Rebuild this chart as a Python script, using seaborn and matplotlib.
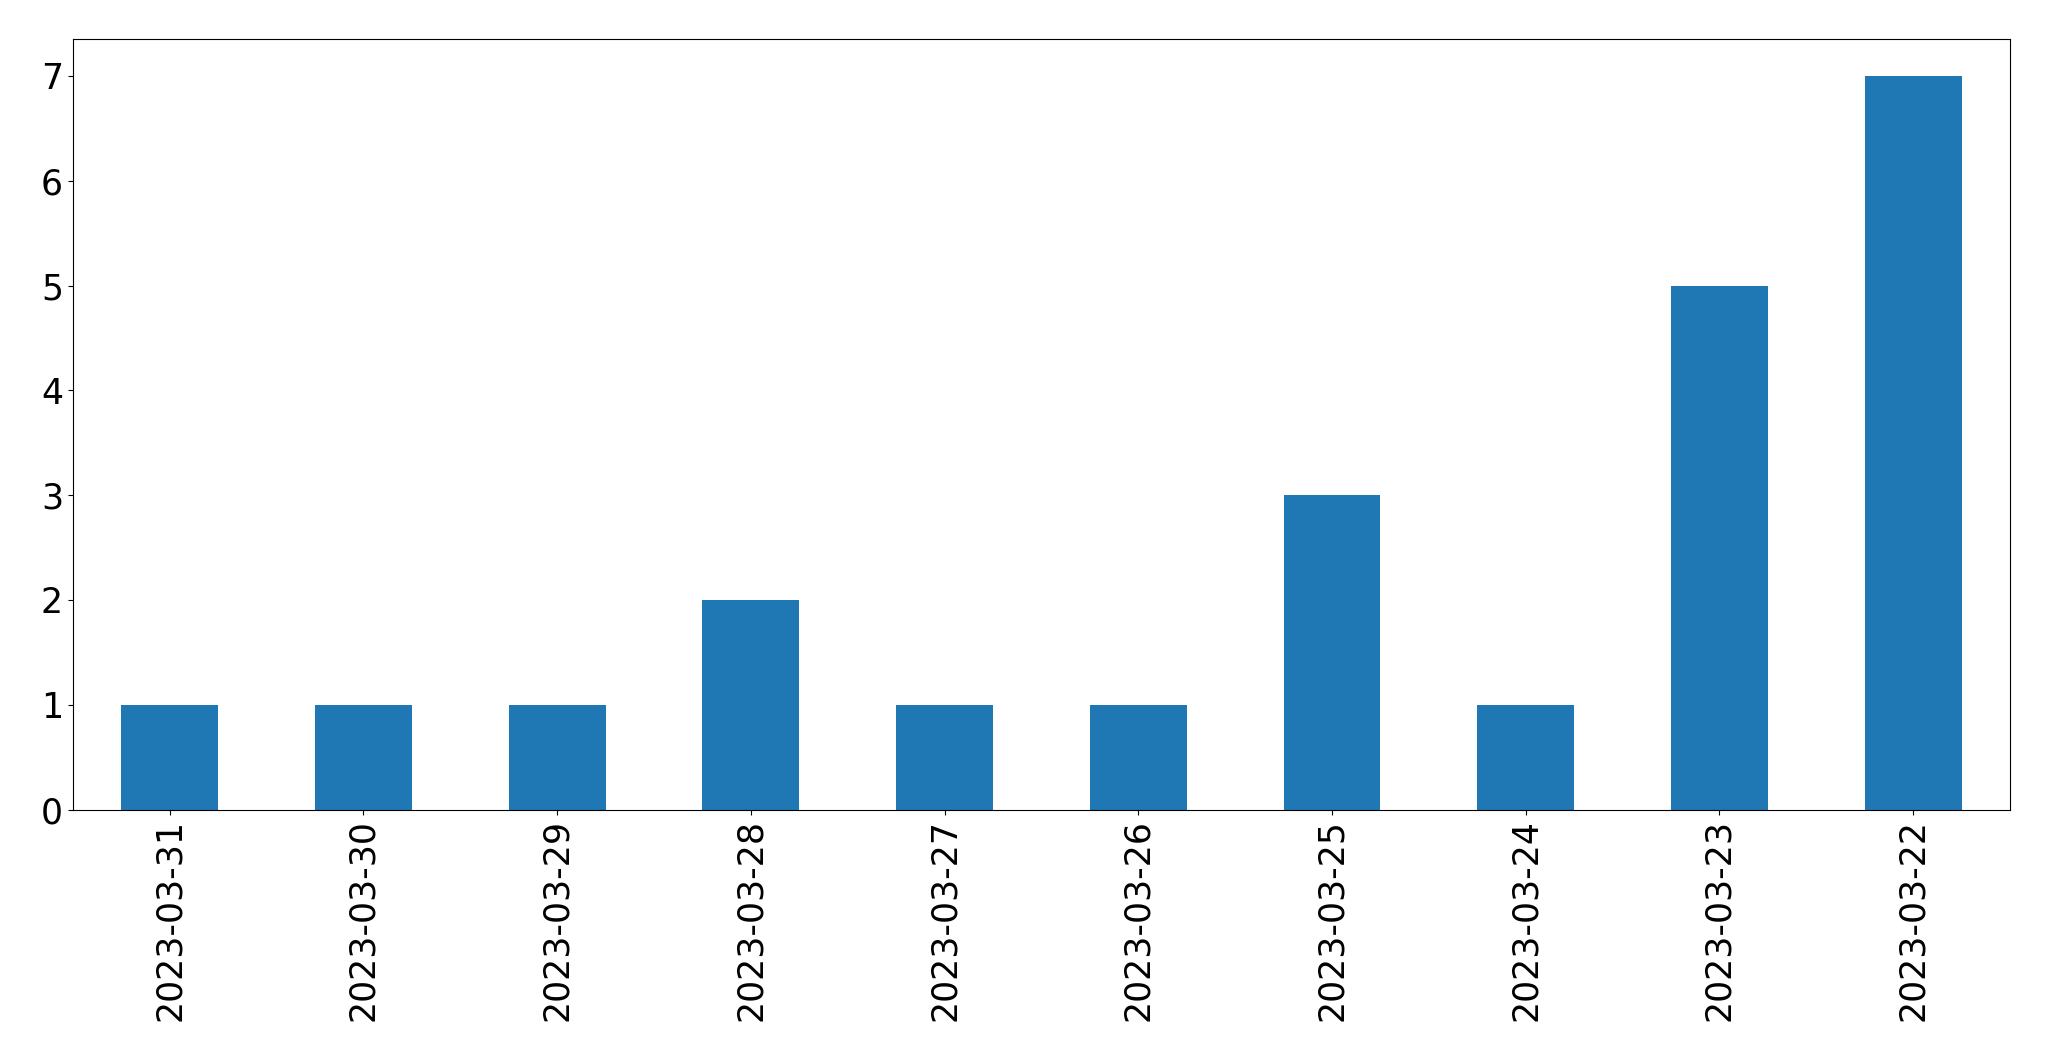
import matplotlib
matplotlib.use('Agg')

import pandas as pd
import matplotlib.pyplot as plt
import seaborn as sns

dates = ['2023-03-31', '2023-03-30', '2023-03-29', '2023-03-28', '2023-03-27',
         '2023-03-26', '2023-03-25', '2023-03-24', '2023-03-23', '2023-03-22']
counts = [1, 1, 1, 2, 1, 1, 3, 1, 5, 7]

df = pd.DataFrame({'date': dates, 'count': counts})

fig, ax = plt.subplots(figsize=(20.49, 10.61), dpi=100)
fig.subplots_adjust(left=0.0355, right=0.981, top=0.963, bottom=0.237)

sns.barplot(data=df, x='date', y='count', order=dates, color='#1f77b4',
            saturation=1, width=0.5, ax=ax)
ax.set_xlim(-0.5, len(dates) - 0.5)
ax.set_ylim(0, 7.35)
ax.set_xlabel('')
ax.set_ylabel('')
ax.tick_params(axis='both', labelsize=25)
plt.setp(ax.get_xticklabels(), rotation=90)

fig.savefig('out.png', dpi=100)
